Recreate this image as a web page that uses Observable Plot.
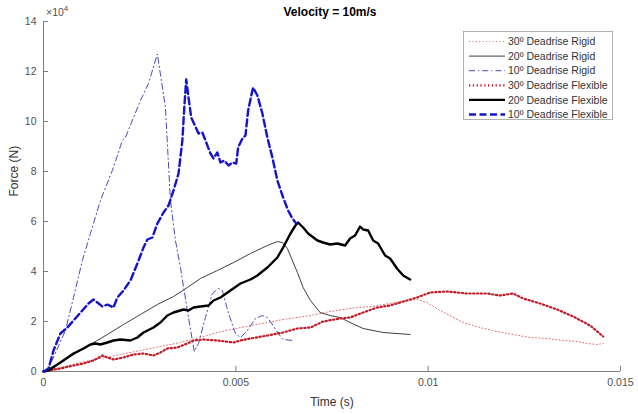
<!DOCTYPE html>
<html>
<head>
<meta charset="utf-8">
<script src="https://cdn.jsdelivr.net/npm/d3@7"></script>
<script src="https://cdn.jsdelivr.net/npm/@observablehq/plot@0.6"></script>
<style>
  body { margin: 0; background: #fff; }
  #chart { position: relative; width: 638px; height: 414px; }
</style>
</head>
<body>
<div id="chart"></div>
<script>
// Impact force histories at 10 m/s. Time in seconds, force in units of 10^4 N.
const rigid30 = [
  [0, 0], [0.00044, 0.16], [0.00096, 0.36], [0.00148, 0.52], [0.00200, 0.68], [0.00252, 0.84],
  [0.00304, 1.00], [0.00356, 1.16], [0.00408, 1.36], [0.00452, 1.56], [0.00538, 1.84], [0.00623, 2.08],
  [0.00694, 2.24], [0.00745, 2.40], [0.00816, 2.56], [0.00857, 2.60], [0.00901, 2.72], [0.00945, 2.84],
  [0.00971, 2.88], [0.00997, 2.76], [0.01031, 2.44], [0.01091, 1.96], [0.01135, 1.76], [0.01179, 1.60],
  [0.01221, 1.48], [0.01265, 1.36], [0.01309, 1.32], [0.01351, 1.24], [0.01387, 1.20], [0.01413, 1.12],
  [0.01439, 1.08], [0.01455, 1.12]
];
const rigid20 = [
  [0, 0], [0.00044, 0.36], [0.00078, 0.68], [0.00122, 1.08], [0.00166, 1.48], [0.00208, 1.88],
  [0.00252, 2.28], [0.00296, 2.68], [0.00338, 3.00], [0.00374, 3.36], [0.00408, 3.72], [0.00452, 4.04],
  [0.00494, 4.36], [0.00538, 4.72], [0.00582, 5.04], [0.00608, 5.20], [0.00621, 5.16], [0.00634, 4.92],
  [0.00660, 3.96], [0.00675, 3.36], [0.00694, 2.84], [0.00719, 2.36], [0.00745, 2.24], [0.00771, 2.16],
  [0.00797, 1.96], [0.00831, 1.72], [0.00883, 1.56], [0.00953, 1.48]
];
const rigid10 = [
  [0, 0], [0.00013, 0.12], [0.00057, 1.64], [0.00078, 2.96], [0.00101, 4.44], [0.00122, 5.52],
  [0.00148, 6.84], [0.00179, 8.04], [0.00205, 9.24], [0.00213, 9.36], [0.00252, 10.84], [0.00273, 11.52],
  [0.00296, 12.70], [0.00317, 10.56], [0.00330, 6.84], [0.00343, 5.24], [0.00356, 4.16], [0.00374, 2.44],
  [0.00387, 1.24], [0.00392, 0.80], [0.00403, 1.12], [0.00421, 2.16], [0.00439, 3.12], [0.00455, 3.32],
  [0.00465, 3.24], [0.00481, 2.32], [0.00499, 1.52], [0.00512, 1.36], [0.00530, 1.64], [0.00551, 2.12],
  [0.00569, 2.24], [0.00582, 2.16], [0.00597, 1.84], [0.00610, 1.52], [0.00623, 1.28], [0.00649, 1.24]
];
const flexible30 = [
  [0, 0], [0.00013, 0.04], [0.00044, 0.12], [0.00078, 0.24], [0.00104, 0.32], [0.00130, 0.44],
  [0.00153, 0.64], [0.00166, 0.56], [0.00182, 0.48], [0.00208, 0.56], [0.00234, 0.68], [0.00260, 0.72],
  [0.00286, 0.64], [0.00304, 0.76], [0.00322, 0.92], [0.00348, 0.96], [0.00374, 1.12], [0.00390, 1.24],
  [0.00416, 1.28], [0.00452, 1.24], [0.00494, 1.16], [0.00512, 1.24], [0.00538, 1.32], [0.00582, 1.44],
  [0.00623, 1.56], [0.00660, 1.72], [0.00694, 1.76], [0.00727, 2.00], [0.00771, 2.12], [0.00797, 2.16],
  [0.00831, 2.36], [0.00868, 2.56], [0.00901, 2.64], [0.00945, 2.84], [0.00971, 2.96], [0.01005, 3.16],
  [0.01049, 3.20], [0.01101, 3.12], [0.01153, 3.12], [0.01187, 3.04], [0.01221, 3.12], [0.01247, 2.92],
  [0.01291, 2.72], [0.01335, 2.48], [0.01377, 2.20], [0.01421, 1.84], [0.01455, 1.40]
];
const flexible20 = [
  [0, 0], [0.00013, 0.04], [0.00044, 0.36], [0.00078, 0.72], [0.00104, 0.92], [0.00122, 1.08],
  [0.00135, 1.12], [0.00148, 1.08], [0.00166, 1.16], [0.00182, 1.24], [0.00200, 1.28], [0.00226, 1.24],
  [0.00244, 1.36], [0.00260, 1.56], [0.00286, 1.76], [0.00304, 1.96], [0.00322, 2.24], [0.00338, 2.36],
  [0.00364, 2.48], [0.00377, 2.44], [0.00390, 2.56], [0.00408, 2.60], [0.00429, 2.64], [0.00442, 2.84],
  [0.00460, 2.96], [0.00486, 3.24], [0.00512, 3.52], [0.00538, 3.68], [0.00556, 3.84], [0.00582, 4.16],
  [0.00608, 4.56], [0.00623, 4.96], [0.00642, 5.52], [0.00655, 5.84], [0.00662, 5.96], [0.00675, 5.76],
  [0.00688, 5.52], [0.00712, 5.24], [0.00727, 5.16], [0.00745, 5.08], [0.00764, 5.12], [0.00784, 5.04],
  [0.00797, 5.32], [0.00810, 5.44], [0.00823, 5.80], [0.00831, 5.68], [0.00844, 5.64], [0.00857, 5.24],
  [0.00870, 5.12], [0.00888, 4.64], [0.00901, 4.52], [0.00919, 4.12], [0.00935, 3.84], [0.00953, 3.68]
];
const flexible10 = [
  [0, 0], [0.00013, 0.12], [0.00026, 0.84], [0.00044, 1.52], [0.00062, 1.76], [0.00078, 2.04],
  [0.00101, 2.44], [0.00117, 2.72], [0.00130, 2.88], [0.00140, 2.76], [0.00153, 2.60], [0.00166, 2.68],
  [0.00182, 2.56], [0.00192, 2.96], [0.00208, 3.24], [0.00226, 3.64], [0.00244, 4.32], [0.00260, 4.96],
  [0.00270, 5.28], [0.00283, 5.36], [0.00296, 5.92], [0.00312, 6.36], [0.00325, 6.64], [0.00338, 7.24],
  [0.00351, 7.92], [0.00361, 9.24], [0.00366, 10.56], [0.00371, 11.68], [0.00377, 10.96], [0.00384, 10.16],
  [0.00403, 9.52], [0.00413, 9.56], [0.00421, 9.24], [0.00434, 8.72], [0.00442, 8.52], [0.00452, 8.76],
  [0.00460, 8.36], [0.00470, 8.44], [0.00481, 8.24], [0.00491, 8.36], [0.00501, 8.32], [0.00506, 8.96],
  [0.00517, 9.32], [0.00525, 9.44], [0.00532, 10.44], [0.00543, 11.24], [0.00545, 11.36], [0.00556, 11.04],
  [0.00569, 10.32], [0.00582, 9.36], [0.00595, 8.56], [0.00608, 7.64], [0.00623, 6.96], [0.00636, 6.44],
  [0.00647, 6.12], [0.00657, 5.92]
];

const seriesNames = [
  "30º Deadrise Rigid", "20º Deadrise Rigid", "10º Deadrise Rigid",
  "30º Deadrise Flexible", "20º Deadrise Flexible", "10º Deadrise Flexible"
];
const seriesData = [rigid30, rigid20, rigid10, flexible30, flexible20, flexible10];

const xTicks = [0, 0.005, 0.01, 0.015];
const yTicks = [0, 2, 4, 6, 8, 10, 12, 14];

const titleText = "Velocity = 10m/s";
const xLabel = "Time (s)";
const yLabel = "Force (N)";

// MATLAB-like line specs, in plotting order
const styles = [
  {stroke: "#e46a6a", strokeWidth: 1, strokeDasharray: "1,2.4"},
  {stroke: "#2a2a2a", strokeWidth: 0.9, strokeDasharray: null},
  {stroke: "#4a4ab8", strokeWidth: 1, strokeDasharray: "6,3,1.2,3"},
  {stroke: "#c01c28", strokeWidth: 2.2, strokeDasharray: "1.3,2.5"},
  {stroke: "#000000", strokeWidth: 2.4, strokeDasharray: null},
  {stroke: "#1414cc", strokeWidth: 2.4, strokeDasharray: "7,3.5"}
];

const font = "'Liberation Sans', Arial, Helvetica, sans-serif";
const axisGray = "#808080";
const plotW = 638 - 43 - 18;
const plotH = 414 - 21 - 43;
const tickLen = 5;

const lineMarks = seriesData.map((pts, i) =>
  Plot.line(pts, {
    x: d => d[0], y: d => d[1],
    stroke: styles[i].stroke,
    strokeWidth: styles[i].strokeWidth,
    strokeDasharray: styles[i].strokeDasharray,
    strokeLinejoin: "round"
  })
);

const chart = Plot.plot({
  width: 638, height: 414,
  marginLeft: 43, marginRight: 18, marginTop: 21, marginBottom: 43,
  style: {fontFamily: font, fontSize: "10.5px", background: "#fff", color: "#505050"},
  x: {domain: [0, 0.015]},
  y: {domain: [0, 14]},
  marks: [
    Plot.axisX({ticks: xTicks, tickSize: 0, tickPadding: 7, label: null,
      tickFormat: d => String(+d.toFixed(3))}),
    Plot.axisY({ticks: yTicks, tickSize: 0, tickPadding: 7, label: null,
      tickFormat: d => String(d)}),
    // inward-pointing tick marks
    Plot.tickX(xTicks, {x: d => d, stroke: axisGray, insetTop: plotH - tickLen}),
    Plot.tickY(yTicks, {y: d => d, stroke: axisGray, insetRight: plotW - tickLen}),
    Plot.ruleX([0], {stroke: axisGray}),
    Plot.ruleY([0], {stroke: axisGray}),
    ...lineMarks,
    Plot.text([xLabel], {frameAnchor: "bottom", dy: 31, fontSize: 12, fill: "#333", lineAnchor: "middle"}),
    Plot.text([yLabel], {frameAnchor: "left", dx: -29, rotate: -90, fontSize: 12, fill: "#333", lineAnchor: "middle"})
  ]
});

document.getElementById("chart").appendChild(chart);

const svg = d3.select(chart);

// title
svg.append("text")
  .attr("x", 330).attr("y", 16)
  .attr("text-anchor", "middle")
  .attr("font-family", font).attr("font-size", 12).attr("font-weight", "bold")
  .attr("fill", "#000")
  .text(titleText);

// axis exponent
const expo = svg.append("text")
  .attr("x", 46).attr("y", 16)
  .attr("text-anchor", "start")
  .attr("font-family", font).attr("font-size", 10.5).attr("fill", "#505050");
expo.append("tspan").text("×10");
expo.append("tspan").attr("dy", -5).attr("font-size", 8).text("4");

// legend
const lg = svg.append("g")
  .attr("font-family", font).attr("font-size", 10.5).attr("fill", "#333")
  .attr("text-anchor", "start");
lg.append("rect")
  .attr("x", 463.5).attr("y", 31.5).attr("width", 149).attr("height", 88)
  .attr("fill", "#fff").attr("stroke", "#a0a0a0").attr("stroke-width", 0.8);
seriesNames.forEach((name, i) => {
  const y = 41.5 + i * 14.6;
  lg.append("line")
    .attr("x1", 469).attr("x2", 505).attr("y1", y).attr("y2", y)
    .attr("stroke", styles[i].stroke)
    .attr("stroke-width", styles[i].strokeWidth)
    .attr("stroke-dasharray", styles[i].strokeDasharray);
  lg.append("text")
    .attr("x", 508).attr("y", y).attr("dy", "0.36em")
    .attr("text-anchor", "start")
    .text(name);
});
</script>
</body>
</html>
